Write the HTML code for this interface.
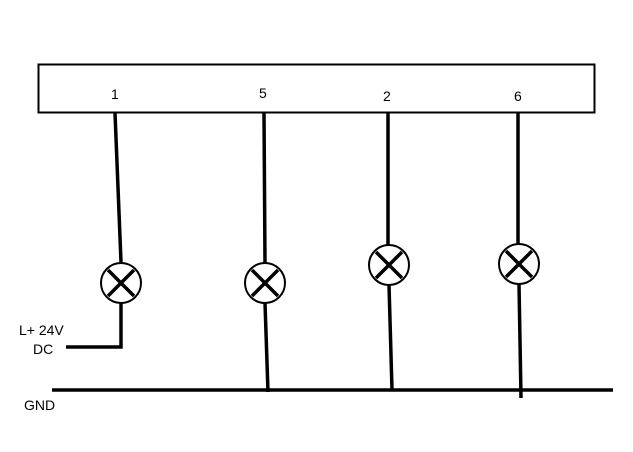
<!DOCTYPE html>
<html><head><style>body{margin:0;background:#fff}svg{display:block}</style></head><body>
<svg width="633" height="452" viewBox="0 0 633 452" xmlns="http://www.w3.org/2000/svg" font-family="Liberation Sans, sans-serif" font-size="14">
<rect x="38.5" y="64.5" width="556" height="48" fill="#fff" stroke="#000" stroke-width="2"/>
<text x="111" y="99">1</text><text x="259" y="98">5</text><text x="383" y="101">2</text><text x="514" y="101">6</text>
<g stroke="#000" stroke-width="3.5" fill="none">
<path d="M115 113 L121 262"/>
<path d="M121 303 L121 347 L66 347"/>
<path d="M264 113 L265 263"/>
<path d="M265 303 L268 392"/>
<path d="M388 113 L388 245"/>
<path d="M389 285 L392 390"/>
<path d="M518 113 L518 244"/>
<path d="M519 284 L521 398"/>
<path d="M52 390 L613 390"/>
</g>
<g stroke="#000" stroke-width="2" fill="#fff">
<circle cx="121" cy="283" r="20"/><circle cx="265" cy="283" r="20"/>
<circle cx="389" cy="265" r="20"/><circle cx="519" cy="264" r="20"/>
</g>
<g stroke="#000" stroke-width="3.5">
<path d="M108 270 L134 296 M134 270 L108 296"/>
<path d="M252 270 L278 296 M278 270 L252 296"/>
<path d="M376 252 L402 278 M402 252 L376 278"/>
<path d="M506 251 L532 277 M532 251 L506 277"/>
</g>
<text x="19" y="335">L+ 24V</text><text x="33" y="354">DC</text><text x="24" y="410">GND</text>
</svg></body></html>
